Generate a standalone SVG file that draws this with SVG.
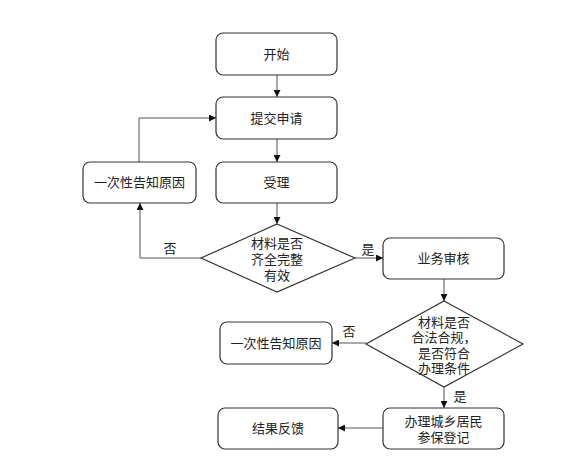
<svg xmlns="http://www.w3.org/2000/svg" width="567" height="467" viewBox="0 0 567 467">
<defs>
<marker id="ah" viewBox="0 0 8 8" refX="8" refY="4" markerWidth="7" markerHeight="7" markerUnits="userSpaceOnUse" orient="auto">
<path d="M0,0 L8,4 L0,8 z" fill="#111"/>
</marker>
<style>
.box{fill:#fff;stroke:#333;stroke-width:1.2}
.t{font-family:"Liberation Serif","Noto Sans CJK SC",serif;font-size:13px;fill:#222;text-anchor:middle}
.c{fill:none;stroke:#555;stroke-width:1;marker-end:url(#ah)}
</style>
</defs>
<rect width="567" height="467" fill="#fff"/>
<g id="connectors">
<path class="c" d="M277,75 L277,97"/>
<path class="c" d="M277,139 L277,162"/>
<path class="c" d="M277,203 L277,224"/>
<path class="c" d="M139,162 L139,118 L216,118"/>
<path class="c" d="M201,258 L140,258 L140,203"/>
<path class="c" d="M355,258 L383,258"/>
<path class="c" d="M444,279 L444,301"/>
<path class="c" d="M366,343 L332,343"/>
<path class="c" d="M444,387 L444,408"/>
<path class="c" d="M383,428 L338,428"/>
<text class="t" x="170" y="253">否</text>
<text class="t" x="368" y="254">是</text>
<text class="t" x="349" y="336">否</text>
<text class="t" x="460" y="401">是</text>
</g>
<g id="start"><rect class="box" x="216" y="33" width="121" height="42" rx="7"/><text class="t" x="276.5" y="59">开始</text></g>
<g id="submit"><rect class="box" x="216" y="97" width="121" height="42" rx="7"/><text class="t" x="276.5" y="123">提交申请</text></g>
<g id="accept"><rect class="box" x="216" y="162" width="121" height="41" rx="7"/><text class="t" x="276.5" y="187">受理</text></g>
<g id="notify1"><rect class="box" x="83" y="162" width="113" height="41" rx="7"/><text class="t" x="139.5" y="187">一次性告知原因</text></g>
<g id="check1"><polygon class="box" points="277,224 355,258 277,292 201,258"/>
<text class="t" x="277" y="248">材料是否</text><text class="t" x="277" y="264">齐全完整</text><text class="t" x="277" y="280">有效</text></g>
<g id="review"><rect class="box" x="383" y="238" width="121" height="41" rx="7"/><text class="t" x="443.5" y="263">业务审核</text></g>
<g id="check2"><polygon class="box" points="444,301 523,344 444,387 366,344"/>
<text class="t" x="444" y="327">材料是否</text><text class="t" x="444" y="342">合法合规，</text><text class="t" x="444" y="358">是否符合</text><text class="t" x="444" y="373">办理条件</text></g>
<g id="notify2"><rect class="box" x="220" y="322" width="112" height="42" rx="7"/><text class="t" x="276" y="348">一次性告知原因</text></g>
<g id="register"><rect class="box" x="383" y="408" width="121" height="41" rx="7"/><text class="t" x="443.5" y="426">办理城乡居民</text><text class="t" x="443.5" y="442">参保登记</text></g>
<g id="feedback"><rect class="box" x="218" y="408" width="120" height="41" rx="7"/><text class="t" x="278" y="433">结果反馈</text></g>
</svg>
